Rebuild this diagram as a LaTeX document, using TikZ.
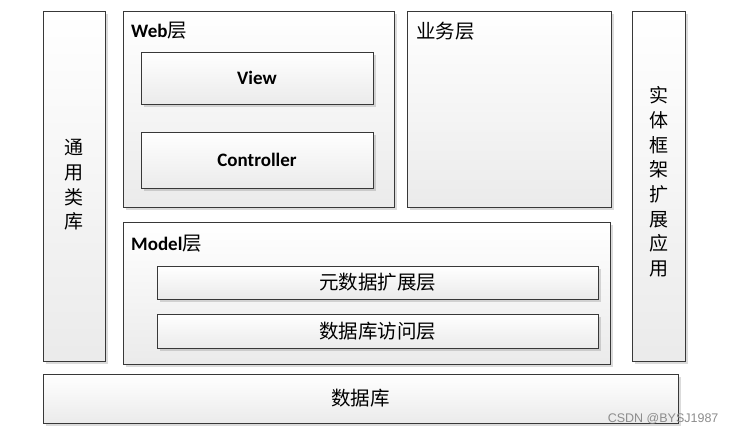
\documentclass[tikz,border=0pt]{standalone}
\usepackage{fontspec}
\setmainfont{Carlito}
\newfontfamily\cjk{Noto Sans CJK SC}
\newfontfamily\wmfont{Liberation Sans}
\usetikzlibrary{shadows}
\tikzset{
  box/.style={draw=black!78, line width=0.8pt, rectangle, inner sep=0pt,
    top color=white, bottom color=black!8,
    drop shadow={shadow xshift=2.5pt, shadow yshift=-3pt, fill=black, opacity=0.14}},
  lat/.style={font=\bfseries\fontsize{19}{21}\selectfont},
  chn/.style={font=\cjk\fontsize{19.5}{21}\selectfont},
  vert/.style={font=\cjk\fontsize{19}{24.7}\selectfont, align=center},
  lbl/.style={anchor=west, inner sep=0pt}
}
\begin{document}
\begin{tikzpicture}[x=1pt,y=-1pt]
\useasboundingbox (0,0) rectangle (737,434);
% left column
\node[box, minimum width=62pt, minimum height=350pt] (lib) at (74,186) {};
\node[vert] (libt) at (74,185) {通\\用\\类\\库};
% web layer
\node[box, minimum width=271pt, minimum height=196pt] (web) at (258.5,109) {};
\node[lbl] (webt) at (131,31) {\bfseries\fontsize{19}{21}\selectfont Web{\mdseries\cjk\fontsize{19.5}{21}\selectfont 层}};
\node[box, minimum width=232pt, minimum height=52pt, lat] (view) at (257,78) {View};
\node[box, minimum width=232pt, minimum height=56pt, lat] (ctrl) at (257,160) {Controller};
% business layer
\node[box, minimum width=204pt, minimum height=196pt] (biz) at (509,109) {};
\node[lbl, font=\cjk\fontsize{19.5}{21}\selectfont] (bizt) at (416,31) {业务层};
% right column
\node[box, minimum width=53pt, minimum height=350pt] (ef) at (658.5,186) {};
\node[vert] (eft) at (658.5,182) {实\\体\\框\\架\\扩\\展\\应\\用};
% model layer
\node[box, minimum width=487pt, minimum height=142pt] (model) at (366.5,293) {};
\node[lbl] (modelt) at (131,244) {\bfseries\fontsize{19}{21}\selectfont Model{\mdseries\cjk\fontsize{19.5}{21}\selectfont 层}};
\node[box, minimum width=441pt, minimum height=33pt, chn] (meta) at (377.5,282.5) {元数据扩展层};
\node[box, minimum width=441pt, minimum height=34pt, chn] (dal) at (377.5,331) {数据库访问层};
% database
\node[box, minimum width=635pt, minimum height=49pt, chn] (db) at (360.5,398.5) {数据库};
% watermark
\node[anchor=east, text=black!45, font=\wmfont\fontsize{12.5}{14}\selectfont] (wm) at (722,419) {CSDN @BYSJ1987};
\end{tikzpicture}
\end{document}
